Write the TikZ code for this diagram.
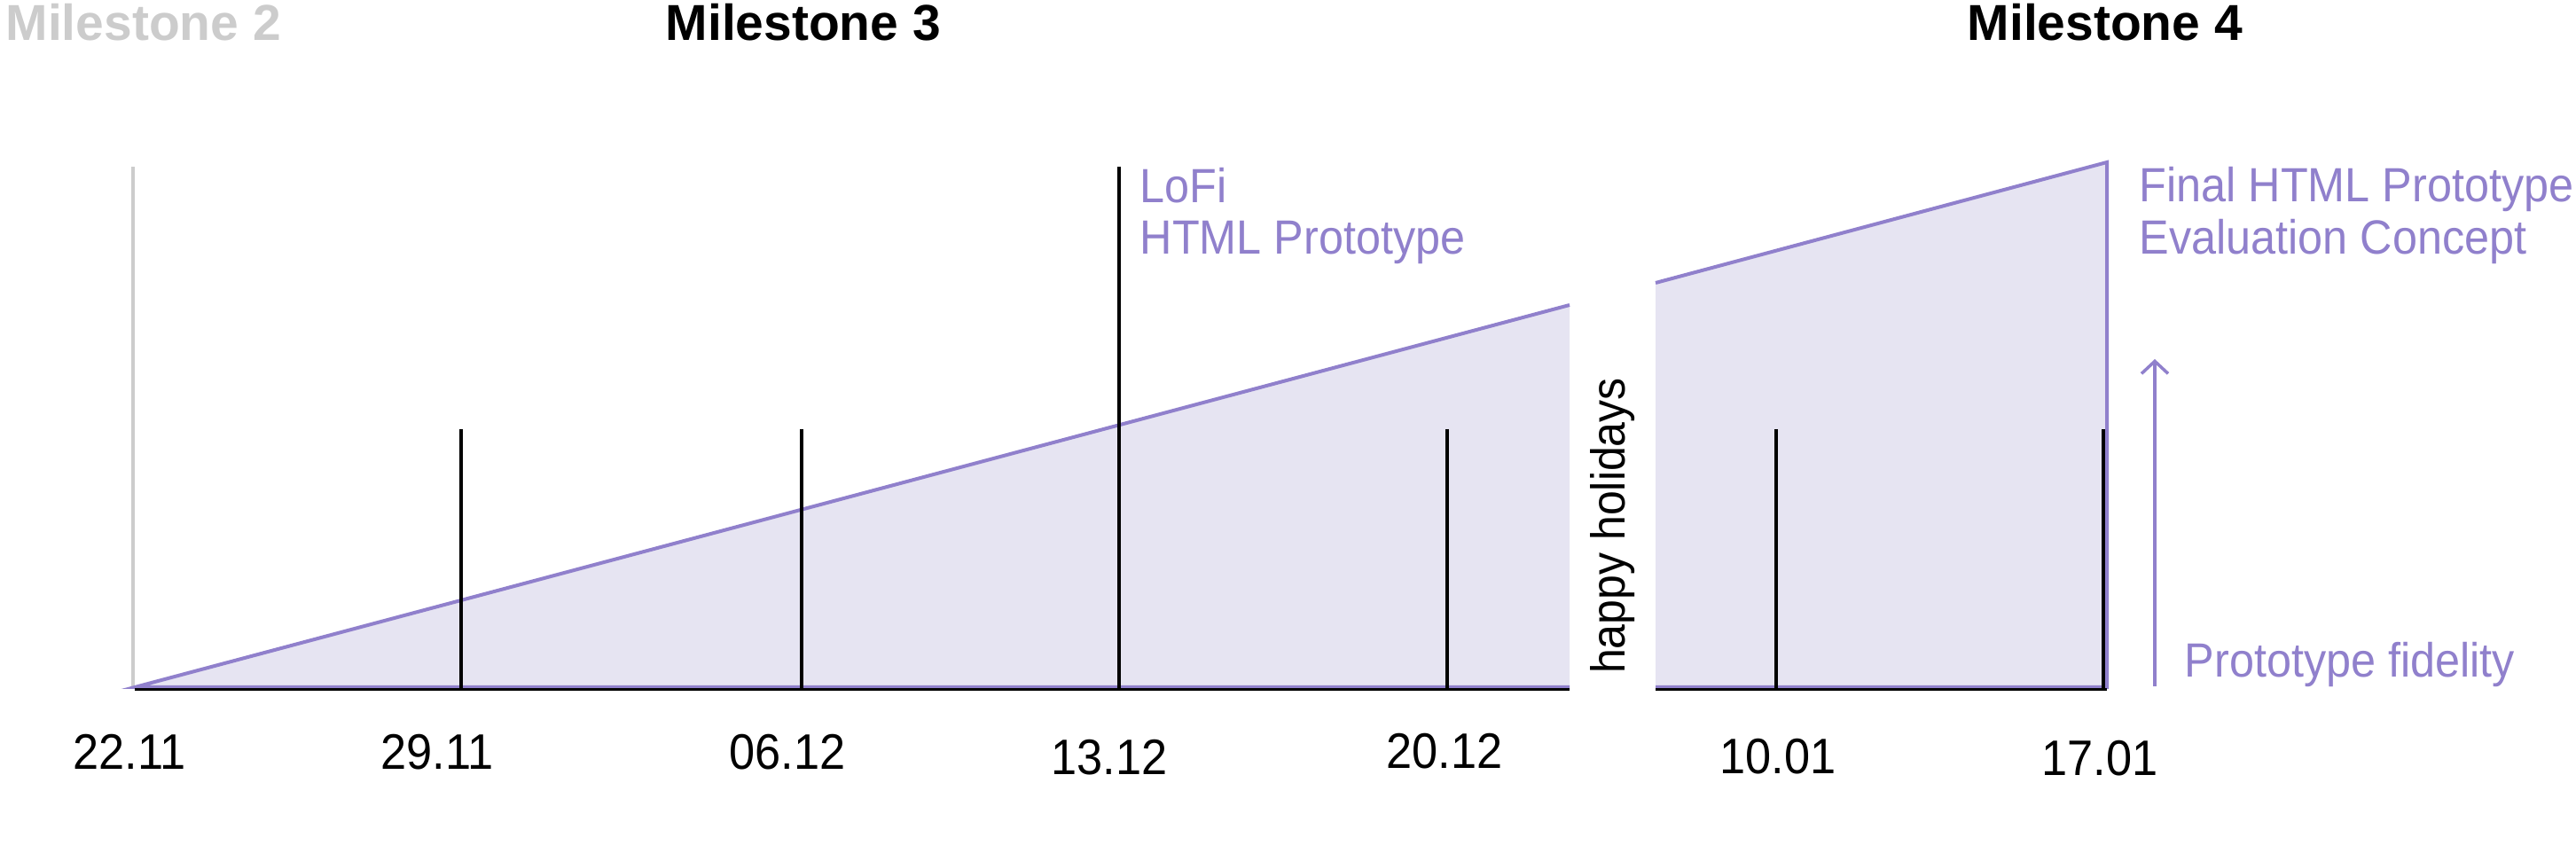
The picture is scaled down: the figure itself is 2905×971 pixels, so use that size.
\documentclass[tikz,border=0pt]{standalone}
\usepackage{fontspec}
\setmainfont{Liberation Sans}[FakeStretch=0.93]
\newfontfamily\titlefont{Liberation Sans}
\usetikzlibrary{arrows.meta}
\definecolor{lav}{RGB}{144,128,204}
\definecolor{lavfill}{RGB}{230,228,242}
\definecolor{msgray}{RGB}{204,204,204}
\begin{document}
\begin{tikzpicture}[x=0.01cm,y=-0.01cm,
  purp/.style={draw=lav, line width=0.04cm},
  tickline/.style={draw=black, line width=0.035cm},
  axisline/.style={draw=black, line width=0.03cm},
  date/.style={font=\fontsize{16}{18}\selectfont, anchor=base, inner sep=0pt},
  lbl/.style={font=\fontsize{15.4}{17}\selectfont, text=lav, anchor=base west, inner sep=0pt},
  mtitle/.style={font=\titlefont\fontsize{16.2}{18}\selectfont\bfseries, anchor=base west, inner sep=0pt}]
\useasboundingbox (0,0) rectangle (2905,971);

% titles
\node[mtitle, text=msgray] (m2) at (6,46) {Milestone 2};
\node[mtitle] (m3) at (750,46) {Milestone 3};
\node[mtitle] (m4) at (2218,46) {Milestone 4};

% gray milestone-2 line
\coordinate (g0) at (150,188);
\coordinate (g1) at (150,777);
\draw[draw=msgray, line width=0.045cm] (g0) -- (g1);

% fidelity shapes
\coordinate (a0) at (152,775);
\coordinate (a1) at (1770,344);
\coordinate (a2) at (1770,775);
\fill[lavfill] (a0) -- (a1) -- (a2) -- cycle;
\draw[purp] (a2) -- (a0) -- (a1);

\coordinate (b0) at (1867,775);
\coordinate (b1) at (1867,319);
\coordinate (b2) at (2376,183);
\coordinate (b3) at (2376,775);
\fill[lavfill] (b0) -- (b1) -- (b2) -- (b3) -- cycle;
\draw[purp] (b1) -- (b2) -- (b3) -- (b0);

% axis
\coordinate (x0) at (152,777.5);
\coordinate (x1) at (1770,777.5);
\coordinate (x2) at (1867,777.5);
\coordinate (x3) at (2376,777.5);
\draw[axisline] (x0) -- (x1);
\draw[axisline] (x2) -- (x3);

% ticks
\foreach \n/\x/\t in {t1/520/484, t2/904/484, t3/1262/188, t4/1632/484, t5/2003/484, t6/2372/484}{
  \coordinate (\n top) at (\x,\t);
  \coordinate (\n bot) at (\x,777);
  \draw[tickline] (\n top) -- (\n bot);
}

% date labels
\node[date] (d1) at (146,868) {22.11};
\node[date] (d2) at (493,868) {29.11};
\node[date] (d3) at (888,868) {06.12};
\node[date] (d4) at (1251,874) {13.12};
\node[date] (d5) at (1629,867) {20.12};
\node[date] (d6) at (2005,873) {10.01};
\node[date] (d7) at (2368,875) {17.01};

% purple labels
\node[lbl] (lofi) at (1285,229) {LoFi};
\node[lbl] (html) at (1285,287) {HTML Prototype};
\node[lbl] (final) at (2412,228) {Final HTML Prototype};
\node[lbl] (evalc) at (2412,287) {Evaluation Concept};
\node[lbl] (fid) at (2463,764) {Prototype fidelity};

% fidelity arrow
\coordinate (ar0) at (2430,774);
\coordinate (ar1) at (2430,405);
\draw[draw=lav, line width=0.035cm, -{Straight Barb[length=0.14cm,width=0.3cm]}] (ar0) -- (ar1);

% holidays
\node[font=\fontsize{15.3}{17}\selectfont, rotate=90, inner sep=0pt] (hol) at (1819,593) {happy holidays};
\end{tikzpicture}
\end{document}
